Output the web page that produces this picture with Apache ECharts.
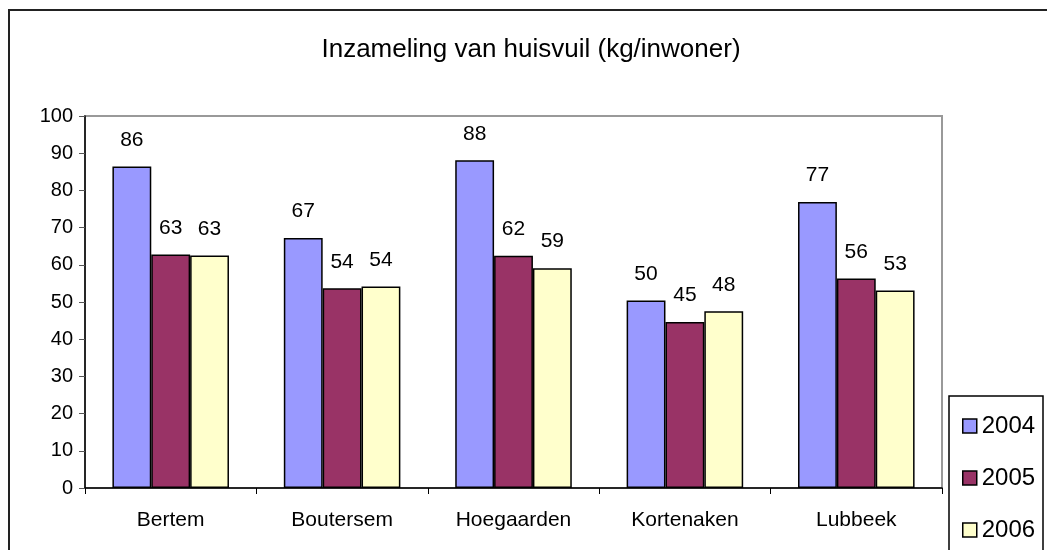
<!DOCTYPE html>
<html>
<head>
    <meta charset="utf-8">
    <title>Inzameling van huisvuil</title>
    <script src="https://cdn.jsdelivr.net/npm/echarts@6/dist/echarts.min.js"></script>
</head>
<body style="margin:0;background:#fff;">
    <div id="main" style="width:1047px;height:550px;"></div>
    <script type="text/javascript">
        var gemeenten = ['Bertem', 'Boutersem', 'Hoegaarden', 'Kortenaken', 'Lubbeek'];
        var jaren = ['2004', '2005', '2006'];
        var v2004 = [86.4, 67.2, 88.1, 50.4, 76.9];
        var v2005 = [62.8, 53.7, 62.4, 44.6, 56.3];
        var v2006 = [62.5, 54.2, 59.1, 47.5, 53.1];
        var kleuren = ['#9999FF', '#993366', '#FFFFCC'];
        var yTicks = [0, 10, 20, 30, 40, 50, 60, 70, 80, 90, 100];

        var font = 'Liberation Sans, Arial, sans-serif';
        var myChart = echarts.init(document.getElementById('main'));

        function reeks(naam, data, kleur) {
            return {
                name: naam,
                type: 'bar',
                data: data,
                barGap: 0,
                barCategoryGap: '32%',
                itemStyle: {
                    color: kleur,
                    borderColor: '#000',
                    borderWidth: 1.5
                },
                label: {
                    show: true,
                    position: 'top',
                    distance: 16,
                    color: '#000',
                    fontFamily: font,
                    fontSize: 21,
                    formatter: function (p) {
                        return Math.round(p.value);
                    }
                }
            };
        }

        myChart.setOption({
            animation: false,
            title: {
                text: 'Inzameling van huisvuil (kg/inwoner)',
                left: 526,
                top: 32,
                textAlign: 'center',
                textStyle: {
                    fontFamily: font,
                    fontSize: 26,
                    fontWeight: 'normal',
                    color: '#000'
                }
            },
            graphic: [{
                type: 'rect',
                shape: { x: 9, y: 10, width: 1100, height: 600 },
                style: { fill: 'none', stroke: '#222', lineWidth: 2 },
                z: -1
            }, {
                type: 'rect',
                shape: { x: 949, y: 396, width: 94, height: 200 },
                style: { fill: '#fff', stroke: '#000', lineWidth: 1.5 },
                z: 0
            }],
            legend: {
                orient: 'vertical',
                left: 962,
                top: 414,
                padding: 0,
                itemWidth: 14,
                itemHeight: 14,
                itemGap: 28,
                icon: 'rect',
                data: jaren,
                itemStyle: { borderColor: '#000', borderWidth: 1.5 },
                textStyle: {
                    fontFamily: font,
                    fontSize: 24,
                    lineHeight: 24,
                    color: '#000'
                },
                z: 5
            },
            grid: {
                left: 85,
                top: 116,
                right: 105,
                bottom: 62,
                show: true,
                borderColor: '#999',
                borderWidth: 2
            },
            xAxis: {
                type: 'category',
                data: gemeenten,
                axisLine: { lineStyle: { color: '#000', width: 1.5 } },
                axisTick: { show: true, length: 6, lineStyle: { color: '#000' } },
                axisLabel: {
                    margin: 22,
                    color: '#000',
                    fontFamily: font,
                    fontSize: 21
                }
            },
            yAxis: {
                type: 'value',
                min: yTicks[0],
                max: yTicks[yTicks.length - 1],
                interval: 10,
                axisLine: { show: true, lineStyle: { color: '#000', width: 1.5 } },
                axisTick: { show: true, length: 6, lineStyle: { color: '#555' } },
                splitLine: { show: false },
                axisLabel: {
                    margin: 12,
                    color: '#000',
                    fontFamily: font,
                    fontSize: 20
                }
            },
            series: [
                reeks(jaren[0], v2004, kleuren[0]),
                reeks(jaren[1], v2005, kleuren[1]),
                reeks(jaren[2], v2006, kleuren[2])
            ]
        });
    </script>
</body>
</html>
